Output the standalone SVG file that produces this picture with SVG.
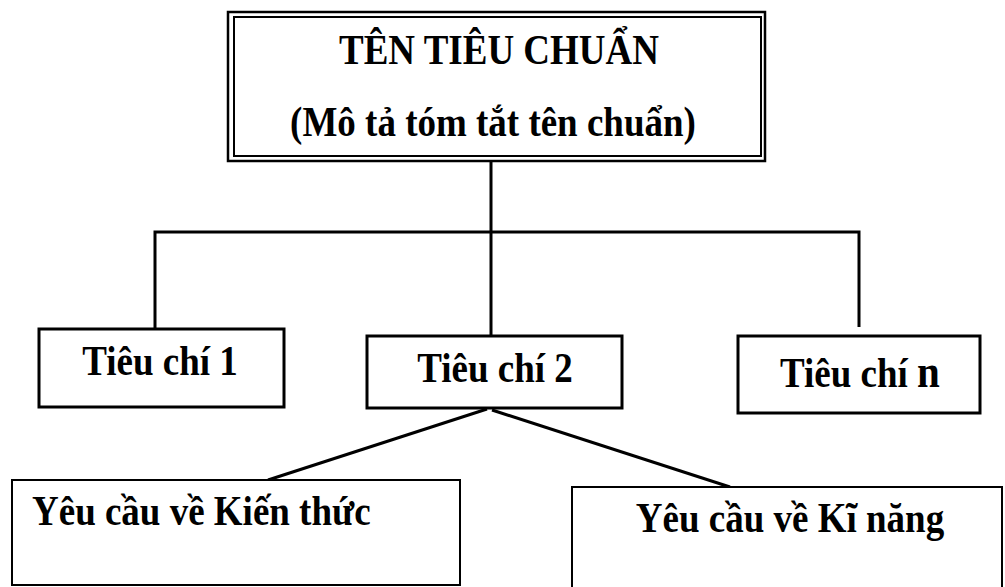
<svg xmlns="http://www.w3.org/2000/svg" width="1005" height="587" viewBox="0 0 1005 587">
  <style>
    .box { fill: #ffffff; stroke: #000000; stroke-width: 3; }
    .thin { fill: #ffffff; stroke: #000000; stroke-width: 2; }
    .wire { fill: none; stroke: #000000; stroke-width: 3; stroke-linecap: butt; }
    .lbl { font-family: "Liberation Serif", "Times New Roman", serif; font-weight: bold; font-size: 37px; fill: #000000; }
    .mid { text-anchor: middle; }
  </style>
  <rect width="1005" height="587" fill="#ffffff"/>

  <!-- connectors -->
  <g id="connectors">
    <line class="wire" x1="491" y1="160" x2="491" y2="336"/>
    <polyline class="wire" points="155,328 155,232 859,232 859,327"/>
    <line class="wire" x1="487" y1="409" x2="268" y2="480"/>
    <line class="wire" x1="492" y1="410" x2="730" y2="487"/>
  </g>

  <!-- standard (double border) -->
  <g id="node-standard">
    <rect x="228" y="12" width="537" height="149" fill="#ffffff" stroke="#000" stroke-width="2.5"/>
    <rect x="234" y="17" width="527" height="139" fill="none" stroke="#000" stroke-width="2"/>
    <text class="lbl mid" transform="translate(499 64) scale(1 1.15)">TÊN TIÊU CHUẨN</text>
    <text class="lbl mid" transform="translate(493 136) scale(1 1.15)">(Mô tả tóm tắt tên chuẩn)</text>
  </g>

  <!-- criteria -->
  <g id="node-criterion-1">
    <rect class="box" x="39" y="329" width="245" height="78"/>
    <text class="lbl mid" transform="translate(160 375) scale(1 1.15)">Tiêu chí 1</text>
  </g>
  <g id="node-criterion-2">
    <rect class="box" x="367" y="336" width="255" height="72"/>
    <text class="lbl mid" transform="translate(495 382) scale(1 1.15)">Tiêu chí 2</text>
  </g>
  <g id="node-criterion-n">
    <rect class="box" x="738" y="336" width="242" height="77"/>
    <text class="lbl mid" transform="translate(860 387) scale(1 1.15)">Tiêu chí <tspan font-size="41">n</tspan></text>
  </g>

  <!-- requirements -->
  <g id="node-knowledge">
    <rect class="thin" x="12" y="480" width="448" height="105"/>
    <text class="lbl" font-size="38" transform="translate(32 525) scale(1 1.15)">Yêu cầu về Kiến thức</text>
  </g>
  <g id="node-skills">
    <rect class="thin" x="572" y="487" width="430" height="110"/>
    <text class="lbl mid" transform="translate(790 532) scale(1 1.15)">Yêu cầu về Kĩ năng</text>
  </g>
</svg>
